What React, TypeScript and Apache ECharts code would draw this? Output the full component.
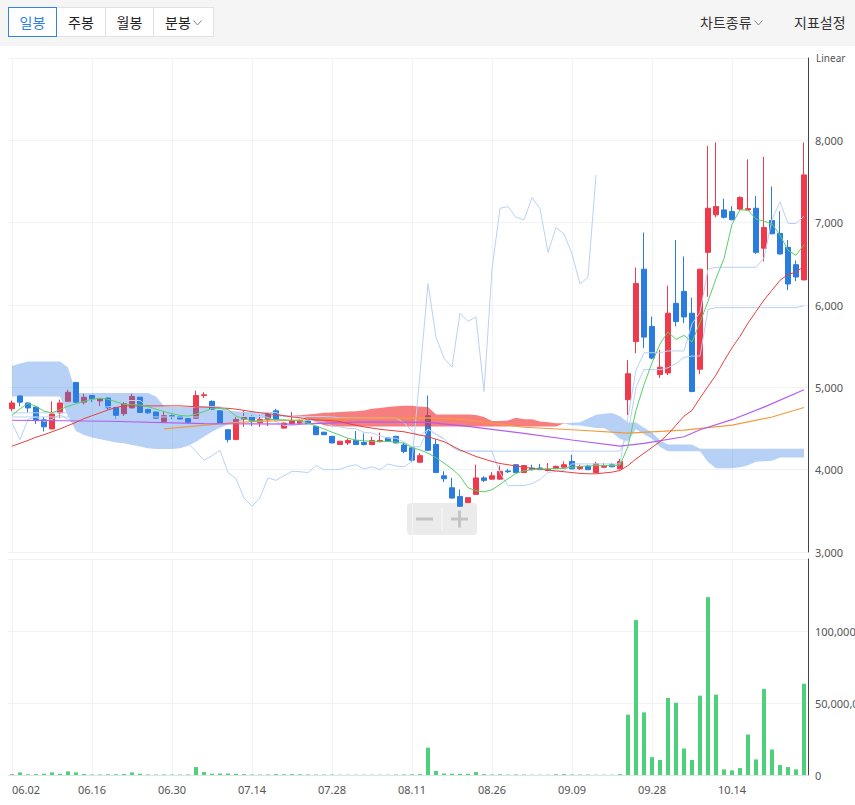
import React, { useEffect, useRef } from "react";
import * as echarts from "echarts";

const dates = [
  "06.02","06.03","06.04","06.07","06.08","06.09","06.10","06.11","06.14","06.15",
  "06.16","06.17","06.18","06.21","06.22","06.23","06.24","06.25","06.28","06.29",
  "06.30","07.01","07.02","07.05","07.06","07.07","07.08","07.09","07.12","07.13",
  "07.14","07.15","07.16","07.19","07.20","07.21","07.22","07.23","07.26","07.27",
  "07.28","07.29","07.30","08.02","08.03","08.04","08.05","08.06","08.09","08.10",
  "08.11","08.12","08.13","08.17","08.18","08.19","08.20","08.23","08.24","08.25",
  "08.26","08.27","08.30","08.31","09.01","09.02","09.03","09.06","09.07","09.08",
  "09.09","09.10","09.13","09.14","09.15","09.16","09.17","09.23","09.24","09.27",
  "09.28","09.29","09.30","10.01","10.05","10.06","10.07","10.08","10.12","10.13",
  "10.14","10.15","10.18","10.19","10.20","10.21","10.22","10.25","10.26","10.27",
];

const opens = [
  4740,4895,4810,4760,4605,4495,4690,4830,5060,4820,
  4900,4835,4870,4755,4680,4750,4880,4730,4700,4585,
  4655,4645,4620,4625,4900,4830,4715,4485,4365,4615,
  4645,4570,4605,4715,4505,4560,4565,4590,4525,4455,
  4405,4305,4325,4355,4330,4305,4340,4385,4405,4300,
  4265,4090,4655,4305,3925,3780,3675,3600,3700,3900,
  3885,3885,3985,4060,3965,4020,4020,3990,4015,4030,
  4100,4010,4040,3965,4030,4060,4010,4850,5555,6435,
  5740,5155,5175,6020,6165,5900,5220,6640,7095,7155,
  7135,7165,7155,7175,6690,7025,6870,6700,6490,6305,
];
const closes = [
  4810,4820,4750,4595,4520,4675,4810,4940,4820,4880,
  4860,4860,4750,4660,4800,4890,4695,4690,4625,4655,
  4645,4615,4575,4900,4910,4735,4565,4365,4610,4640,
  4585,4610,4670,4610,4565,4595,4595,4560,4425,4425,
  4325,4345,4355,4305,4305,4355,4355,4345,4325,4220,
  4115,4170,4235,3965,3890,3655,3555,3660,3900,3870,
  3925,3980,3975,3965,4050,4000,4000,4005,4040,4060,
  4010,4035,4000,4070,4045,4035,4100,5165,6260,5610,
  5355,5245,5900,5800,5855,4950,6435,7175,7195,7065,
  7035,7305,7170,6640,6940,6865,6620,6255,6340,7580,
];
const lows = [
  4710,4770,4695,4555,4465,4490,4625,4825,4815,4790,
  4820,4770,4730,4620,4650,4745,4690,4680,4620,4580,
  4615,4610,4570,4620,4870,4730,4560,4330,4360,4520,
  4530,4520,4530,4600,4500,4550,4560,4555,4420,4420,
  4320,4300,4300,4300,4295,4300,4330,4340,4320,4200,
  4090,4085,4230,3960,3850,3650,3550,3595,3695,3850,
  3880,3880,3960,3960,3960,3990,3995,3980,4010,4025,
  4005,4000,3995,3960,4020,4030,4005,4665,5415,5475,
  5340,5115,5150,5740,5780,4940,5160,6100,7065,7050,
  7030,7150,7150,6620,6530,6860,6615,6180,6290,6300,
];
const highs = [
  4840,4900,4815,4765,4640,4830,4850,4970,5060,4920,
  4905,4865,4875,4760,4820,4920,4885,4740,4705,4710,
  4670,4650,4625,4960,4940,4840,4720,4490,4640,4720,
  4660,4660,4700,4740,4575,4700,4610,4595,4530,4460,
  4410,4350,4375,4470,4440,4400,4450,4390,4410,4330,
  4270,4200,4900,4370,3980,3900,3760,3665,4060,3920,
  3970,4050,4010,4065,4055,4060,4070,4080,4050,4100,
  4180,4060,4060,4095,4080,4080,4130,5330,6455,6880,
  5860,5455,6235,6790,6590,6090,6440,7930,7975,7290,
  7200,7320,7770,7325,7800,7440,7140,6790,6540,7975,
];

const volumes = [
  600000,1800000,500000,600000,900000,1800000,800000,2500000,1800000,700000,
  400000,400000,500000,500000,700000,1800000,900000,400000,300000,400000,
  300000,300000,400000,5500000,2000000,900000,1000000,1000000,800000,600000,
  400000,300000,400000,600000,500000,600000,500000,400000,300000,300000,
  300000,200000,200000,200000,200000,200000,200000,200000,300000,400000,
  500000,600000,19000000,2800000,1000000,900000,800000,800000,2000000,600000,
  400000,500000,300000,400000,300000,200000,200000,200000,500000,600000,
  400000,300000,300000,200000,200000,200000,600000,41900000,107600000,43500000,
  12400000,10400000,53500000,50200000,18400000,10400000,55100000,123500000,55800000,3900000,
  3200000,4800000,28100000,10800000,59700000,17700000,6900000,5500000,3900000,63400000,
];

const ma5 = [
  4660,4740,4805,4770,4710,4690,4730,4770,4800,4830,
  4855,4868,4855,4825,4795,4790,4785,4765,4735,4705,
  4680,4660,4650,4675,4705,4745,4745,4730,4650,4620,
  4590,4595,4615,4607,4605,4600,4590,4567,4530,4495,
  4455,4420,4380,4360,4350,4343,4343,4343,4335,4320,
  4268,4240,4200,4145,4080,4010,3920,3780,3745,3730,
  3757,3820,3890,3955,3985,4000,4008,4010,4012,4015,
  4030,4040,4045,4049,4049,4049,4055,4283,4721,5034,
  5298,5527,5674,5582,5631,5550,5788,6043,6322,6564,
  6981,7155,7154,7043,7018,6984,6847,6664,6604,6732,
];
const ma20 = [
  4285,4320,4355,4395,4425,4460,4495,4535,4575,4620,
  4655,4690,4725,4755,4775,4775,4775,4775,4775,4775,
  4775,4775,4770,4765,4760,4755,4750,4745,4735,4720,
  4705,4690,4680,4670,4655,4640,4630,4615,4605,4600,
  4595,4585,4560,4540,4520,4505,4490,4480,4470,4460,
  4440,4420,4400,4370,4340,4290,4240,4200,4160,4130,
  4100,4075,4060,4045,4030,4015,4005,3995,3985,3975,
  3965,3955,3950,3950,3960,3970,3990,4050,4130,4200,
  4270,4340,4430,4540,4650,4720,4870,5010,5150,5320,
  5480,5620,5780,5920,6060,6180,6300,6370,6400,6470,
];
// [category index, value] read points
const ma60Points = [
  [0,4600],[12,4588],[24,4560],[36,4552],[44,4580],[52,4575],[57,4525],[64,4440],
  [70,4360],[76,4285],[79,4320],[84,4400],[86,4485],[90,4607],[94,4760],[99,4970],
];
const ma120Points = [
  [19,4495],[28,4575],[35,4600],[42,4625],[52,4630],[56,4615],[64,4515],[70,4485],
  [77,4445],[84,4480],[90,4540],[95,4640],[99,4755],
];

const tenkan = [
  4690,4690,4690,4690,4690,4690,4690,4690,4762,4762,
  4762,4762,4762,4775,4840,4840,4840,4770,4770,4750,
  4750,4750,4745,4765,4765,4765,4760,4645,4645,4645,
  4645,4645,4635,4585,4535,4535,4550,4620,4580,4580,
  4530,4520,4500,4500,4452,4445,4412,4382,4382,4335,
  4280,4278,4492,4430,4375,4275,4225,4225,4225,4225,
  4225,3960,3805,3808,3808,3830,3882,3965,3980,3990,
  4070,4070,4070,4070,4070,4070,4070,4645,5208,5420,
  5420,5420,5442,5442,5442,5772,5910,6435,6458,6458,
  6458,6458,6458,6458,6568,7038,7252,6990,6990,7078,
];
const kijun = [
  4640,4640,4640,4640,4640,4640,4640,4640,4640,4640,
  4640,4640,4640,4640,4640,4640,4640,4640,4640,4640,
  4640,4640,4640,4640,4640,4762,4762,4695,4695,4695,
  4695,4695,4695,4695,4645,4645,4645,4645,4645,4645,
  4640,4630,4630,4630,4628,4628,4628,4628,4628,4570,
  4465,4412,4492,4430,4375,4275,4225,4225,4225,4225,
  4225,4225,4225,4225,4225,4225,4225,4225,4225,4225,
  4225,4225,4225,4225,4225,4225,4225,4440,5002,5215,
  5215,5215,5238,5288,5365,5380,5380,5945,5968,5968,
  5968,5968,5968,5968,5968,5968,5968,5968,5968,5990,
];
const chikou = [
  4565,4365,4610,4640,4585,4610,4670,4610,4565,4595,
  4595,4560,4425,4425,4325,4345,4355,4305,4305,4355,
  4355,4345,4325,4220,4115,4170,4235,3965,3890,3655,
  3555,3660,3900,3870,3925,3980,3975,3965,4050,4000,
  4000,4005,4040,4060,4010,4035,4000,4070,4045,4035,
  4100,5165,6260,5610,5355,5245,5900,5800,5855,4950,
  6435,7175,7195,7065,7035,7305,7170,6640,6940,6865,
  6620,6255,6340,7580,
];
const spanA = [
  4890,4890,4890,4890,4890,4890,4890,4650,4470,4420,
  4390,4370,4350,4330,4320,4300,4280,4260,4250,4250,
  4250,4260,4290,4340,4400,4460,4510,4550,4580,4600,
  4610,4620,4630,4640,4650,4655,4660,4670,4680,4690,
  4695,4700,4705,4710,4720,4740,4750,4760,4770,4775,
  4775,4763,4761,4670,4670,4670,4670,4670,4665,4640,
  4590,4590,4598,4632,4612,4612,4585,4575,4565,4565,
  4540,4536,4520,4505,4505,4452,4372,4345,4492,4430,
  4375,4275,4225,4225,4225,4225,4225,4092,4016,4016,
  4016,4028,4054,4095,4102,4108,4148,4148,4148,4148,
];
const spanB = [
  5260,5290,5315,5315,5315,5315,5315,5240,4930,4930,
  4930,4930,4930,4930,4930,4930,4930,4930,4890,4770,
  4760,4760,4760,4760,4760,4740,4730,4720,4710,4700,
  4690,4680,4675,4670,4665,4660,4650,4620,4580,4540,
  4525,4525,4525,4525,4525,4525,4525,4525,4525,4525,
  4525,4525,4525,4525,4525,4525,4525,4525,4525,4525,
  4525,4525,4525,4525,4525,4525,4525,4525,4525,4560,
  4570,4575,4620,4667,4680,4688,4650,4572,4572,4510,
  4455,4355,4305,4305,4305,4305,4255,4255,4255,4255,
  4255,4255,4255,4255,4255,4255,4255,4255,4255,4255,
];

const priceMin = 3000;
const priceMax = 9000;
const priceStep = 1000;
const volMax = 150000000;
const volStep = 50000000;

const FONT = "'Noto Sans', 'Noto Sans CJK KR', sans-serif";
const KFONT = "'Noto Sans CJK KR', 'Noto Sans', sans-serif";
const UP = "#f0394b";
const DOWN = "#2b7ce0";
const ICHI = "#b9d2f4";

function Chevron() {
  return (
    <svg width="9" height="6" viewBox="0 0 9 6" style={{ marginLeft: 2, marginTop: 2 }}>
      <polyline points="0.5,0.5 4.5,5 8.5,0.5" fill="none" stroke="#888" strokeWidth="1" />
    </svg>
  );
}

function Toolbar() {
  const items = [
    { t: "일봉", w: 49, active: true, chev: false },
    { t: "주봉", w: 50, active: false, chev: false },
    { t: "월봉", w: 49, active: false, chev: false },
    { t: "분봉", w: 61, active: false, chev: true },
  ];
  return (
    <div style={{ position: "absolute", left: 0, top: 0, width: 855, height: 46, background: "#f5f5f5", zIndex: 5 }}>
      <div style={{ position: "absolute", left: 8, top: 7, display: "flex" }}>
        {items.map((it, i) => (
          <div
            key={i}
            style={{
              width: it.w,
              height: 30,
              boxSizing: "border-box",
              marginLeft: i === 0 ? 0 : -1,
              border: it.active ? "1px solid #2f86e6" : "1px solid #e2e2e2",
              background: "#fff",
              color: it.active ? "#2f7fe0" : "#222",
              display: "flex",
              alignItems: "center",
              justifyContent: "center",
              fontFamily: KFONT,
              fontSize: 14,
              position: "relative",
              zIndex: it.active ? 2 : 1,
            }}
          >
            {it.t}
            {it.chev ? <Chevron /> : null}
          </div>
        ))}
      </div>
      <div style={{ position: "absolute", left: 700, top: 12, display: "flex", alignItems: "center", fontFamily: KFONT, fontSize: 14, color: "#333" }}>
        차트종류
        <Chevron />
      </div>
      <div style={{ position: "absolute", left: 794, top: 12, fontFamily: KFONT, fontSize: 14, color: "#333", whiteSpace: "nowrap" }}>
        지표설정
      </div>
    </div>
  );
}

export default function App() {
  const ref = useRef<HTMLDivElement>(null);
  useEffect(() => {
    if (!ref.current) return;
    const chart = echarts.init(ref.current, null, { renderer: "svg" });
    const candleData = opens.map((o, i) => [o, closes[i], lows[i], highs[i]]);
    const cloudBase = spanA.map((a, i) => Math.min(a, spanB[i]));
    const cloudBlue = spanA.map((a, i) => Math.max(spanB[i] - a, 0));
    const cloudRed = spanA.map((a, i) => Math.max(a - spanB[i], 0));
    const chikouFull = chikou.concat(new Array(dates.length - chikou.length).fill(null));
    const thin = (name: string, data: any[], color: string, width = 1, z = 5) => ({
      name,
      type: "line",
      xAxisIndex: 0,
      yAxisIndex: 0,
      data,
      symbol: "none",
      showSymbol: false,
      connectNulls: false,
      lineStyle: { color, width },
      z,
      silent: true,
    });
    const gridLineColor = "#f0f2f6";
    const option: any = {
      animation: false,
      textStyle: { fontFamily: FONT },
      grid: [
        { left: 8, right: 47, top: 58, height: 494, outerBoundsMode: "none", containLabel: false },
        { left: 8, right: 47, top: 559, height: 216, outerBoundsMode: "none", containLabel: false },
      ],
      xAxis: [
        {
          type: "category", gridIndex: 0, data: dates, boundaryGap: true,
          axisLine: { show: false, onZero: false }, axisTick: { show: false }, axisLabel: { show: false }, splitLine: { show: false },
        },
        {
          type: "category", gridIndex: 1, data: dates, boundaryGap: true,
          axisLine: { show: true, onZero: false, lineStyle: { color: "#dfe4ec" } },
          axisTick: { show: false },
          axisLabel: { interval: 9, color: "#555", fontSize: 11, margin: 9, alignMinLabel: "left", fontFamily: FONT },
          splitLine: { show: false },
        },
        {
          type: "value", gridIndex: 0, min: -0.5, max: 99.5, splitNumber: 10,
          axisLine: { show: false, onZero: false }, axisTick: { show: false }, axisLabel: { show: false },
          splitLine: { show: true, showMinLine: false, showMaxLine: false, lineStyle: { color: gridLineColor } },
        },
        {
          type: "value", gridIndex: 1, min: -0.5, max: 99.5, splitNumber: 10,
          axisLine: { show: false, onZero: false }, axisTick: { show: false }, axisLabel: { show: false },
          splitLine: { show: true, showMinLine: false, showMaxLine: false, lineStyle: { color: gridLineColor } },
        },
      ],
      yAxis: [
        {
          type: "value", gridIndex: 0, position: "right", min: priceMin, max: priceMax, interval: priceStep,
          axisLine: { show: true, onZero: false, lineStyle: { color: "#444" } },
          axisTick: { show: false },
          axisLabel: {
            color: "#555", fontSize: 11, margin: 7, fontFamily: FONT,
            formatter: (v: number) => (v >= priceMax ? "" : v.toLocaleString("en-US")),
          },
          splitLine: { show: true, lineStyle: { color: gridLineColor } },
        },
        {
          type: "value", gridIndex: 1, position: "right", min: 0, max: volMax, interval: volStep,
          axisLine: { show: true, onZero: false, lineStyle: { color: "#444" } },
          axisTick: { show: false },
          axisLabel: {
            color: "#555", fontSize: 11, margin: 7, fontFamily: FONT,
            formatter: (v: number) => (v >= volMax ? "" : v.toLocaleString("en-US")),
          },
          splitLine: { show: true, lineStyle: { color: gridLineColor } },
        },
      ],
      series: [
        {
          name: "candle", type: "candlestick", xAxisIndex: 0, yAxisIndex: 0, data: candleData,
          barWidth: 6, z: 2,
          itemStyle: { color: UP, color0: DOWN, borderColor: UP, borderColor0: DOWN, borderWidth: 1 },
        },
        {
          name: "cloudBase", type: "line", xAxisIndex: 0, yAxisIndex: 0, data: cloudBase, stack: "cloud",
          symbol: "none", lineStyle: { opacity: 0, width: 0 }, z: 3, silent: true,
        },
        {
          name: "cloudBlue", type: "line", xAxisIndex: 0, yAxisIndex: 0, data: cloudBlue, stack: "cloud",
          symbol: "none", lineStyle: { opacity: 0, width: 0 },
          areaStyle: { color: "rgba(52,128,226,0.36)", opacity: 1 }, z: 3, silent: true,
        },
        {
          name: "cloudRed", type: "line", xAxisIndex: 0, yAxisIndex: 0, data: cloudRed, stack: "cloud",
          symbol: "none", lineStyle: { opacity: 0, width: 0 },
          areaStyle: { color: "rgba(242,46,46,0.62)", opacity: 1 }, z: 3, silent: true,
        },
        thin("chikou", chikouFull, ICHI, 1, 4),
        thin("tenkan", tenkan, ICHI, 1, 4),
        thin("kijun", kijun, ICHI, 1, 4),
        thin("ma120", ma120Points, "#f59a3c", 1.2, 6),
        thin("ma60", ma60Points, "#b45cf2", 1.2, 6),
        thin("ma20", ma20, "#e8403f", 1, 7),
        thin("ma5", ma5, "#56d165", 1, 8),
        {
          name: "volume", type: "bar", xAxisIndex: 1, yAxisIndex: 1, data: volumes,
          barWidth: 4, itemStyle: { color: "#4fd07a" }, silent: true,
        },
      ],
      graphic: [
        {
          type: "text", left: 816, top: 53,
          style: { text: "Linear", fill: "#555", fontSize: 10, fontFamily: FONT },
          z: 100,
        },
        {
          type: "group", left: 407, top: 503, z: 100,
          children: [
            { type: "rect", shape: { x: 0, y: 0, width: 70, height: 32, r: 4 }, style: { fill: "rgba(215,215,215,0.5)" } },
            { type: "line", shape: { x1: 35, y1: 5, x2: 35, y2: 27 }, style: { stroke: "rgba(255,255,255,0.8)", lineWidth: 1 } },
            { type: "rect", shape: { x: 9, y: 14.5, width: 17, height: 3 }, style: { fill: "#c4c4c4" } },
            { type: "rect", shape: { x: 44, y: 14.5, width: 17, height: 3 }, style: { fill: "#c4c4c4" } },
            { type: "rect", shape: { x: 51, y: 7.5, width: 3, height: 17 }, style: { fill: "#c4c4c4" } },
          ],
        },
      ],
    };
    chart.setOption(option);
    return () => chart.dispose();
  }, []);
  return (
    <div style={{ position: "fixed", left: 0, top: 0, width: 855, height: 805, background: "#fff", overflow: "hidden" }}>
      <div ref={ref} style={{ position: "absolute", left: 0, top: 0, width: 855, height: 805 }} />
      <Toolbar />
    </div>
  );
}
